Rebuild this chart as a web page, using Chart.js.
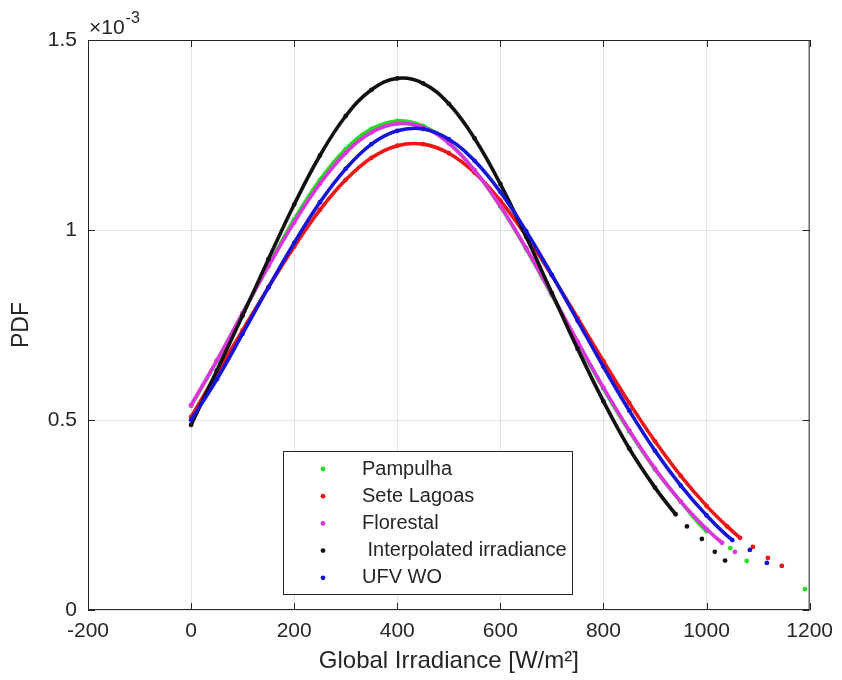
<!DOCTYPE html>
<html>
<head>
<meta charset="utf-8">
<script src="https://cdn.jsdelivr.net/npm/chart.js@4.4.0/dist/chart.umd.min.js"></script>
<style>
  body { margin: 0; background: #fff; }
  #wrap { width: 842px; height: 680px; }
</style>
</head>
<body>
<div id="wrap"><canvas id="pdfChart" width="842" height="680"></canvas></div>
<script>
    // values, PDF in units of 1e-3
    const xTicks = [-200, 0, 200, 400, 600, 800, 1000, 1200];
    const yTicks = [0, 0.5, 1, 1.5];

    const pampulhaX = [0, 50, 100, 150, 200, 250, 300, 350, 400, 450, 500, 550, 600, 650, 700, 750, 800, 850, 900, 950, 1000, 1046, 1078, 1191];
    const pampulhaPdf = [0.537, 0.655, 0.781, 0.906, 1.028, 1.132, 1.213, 1.266, 1.287, 1.274, 1.230, 1.157, 1.062, 0.950, 0.828, 0.703, 0.582, 0.470, 0.370, 0.285, 0.207, 0.163, 0.129, 0.055];

    const seteLagoasX = [0, 50, 100, 150, 200, 250, 300, 350, 400, 450, 500, 550, 600, 650, 700, 750, 800, 850, 900, 950, 1000, 1040, 1065, 1090, 1119, 1146];
    const seteLagoasPdf = [0.508, 0.623, 0.736, 0.849, 0.956, 1.053, 1.132, 1.190, 1.222, 1.226, 1.202, 1.151, 1.077, 0.985, 0.880, 0.768, 0.655, 0.545, 0.444, 0.353, 0.274, 0.220, 0.190, 0.166, 0.137, 0.116];

    const florestalX = [0, 50, 100, 150, 200, 250, 300, 350, 400, 450, 500, 550, 600, 650, 700, 750, 800, 850, 900, 950, 1000, 1030, 1055];
    const florestalPdf = [0.539, 0.657, 0.781, 0.904, 1.020, 1.122, 1.203, 1.257, 1.280, 1.270, 1.228, 1.157, 1.063, 0.952, 0.830, 0.706, 0.585, 0.473, 0.372, 0.285, 0.213, 0.177, 0.153];

    const interpX = [0, 50, 100, 150, 200, 250, 300, 350, 400, 450, 500, 550, 600, 650, 700, 750, 800, 850, 900, 940, 962, 991, 1016, 1036];
    const interpPdf = [0.487, 0.630, 0.775, 0.923, 1.067, 1.196, 1.300, 1.369, 1.399, 1.386, 1.332, 1.241, 1.121, 0.982, 0.834, 0.687, 0.549, 0.425, 0.322, 0.252, 0.220, 0.187, 0.153, 0.130];

    const ufvX = [0, 50, 100, 150, 200, 250, 300, 350, 400, 450, 500, 550, 600, 650, 700, 750, 800, 850, 900, 950, 1000, 1050, 1084, 1117];
    const ufvPdf = [0.500, 0.607, 0.727, 0.849, 0.966, 1.073, 1.161, 1.226, 1.261, 1.266, 1.239, 1.182, 1.100, 0.997, 0.882, 0.761, 0.640, 0.525, 0.419, 0.327, 0.249, 0.184, 0.158, 0.124];

    const seriesNames = ["Pampulha", "Sete Lagoas", "Florestal", " Interpolated irradiance", "UFV WO"];

    const textColor = "#262626";
    const fontFam = "'Liberation Sans', Arial, sans-serif";

    function makeSet(label, xs, ys, color, lineEnd, order) {
        return {
            label: label,
            data: xs.map((v, i) => ({ x: v, y: ys[i] })),
            showLine: true,
            borderColor: color,
            backgroundColor: color,
            borderWidth: 3.6,
            pointRadius: 2.4,
            pointBorderWidth: 0,
            tension: 0.4,
            order: order,
            segment: {
                // the sparse tail is only dots
                borderColor: c => c.p1.parsed.x > lineEnd ? "rgba(0,0,0,0)" : color
            }
        };
    }

    const boxPlugin = {
        id: "box",
        afterDatasetsDraw(chart) {
            const { ctx, chartArea: a, scales } = chart;
            ctx.save();
            ctx.strokeStyle = textColor;
            ctx.lineWidth = 1;
            ctx.strokeRect(a.left + 0.5, a.top + 0.5, a.right - a.left - 1, a.bottom - a.top - 1);
            ctx.beginPath();
            xTicks.forEach(v => {
                const px = Math.round(scales.x.getPixelForValue(v)) + 0.5;
                ctx.moveTo(px, a.bottom); ctx.lineTo(px, a.bottom - 7);
                ctx.moveTo(px, a.top); ctx.lineTo(px, a.top + 7);
            });
            yTicks.forEach(v => {
                const py = Math.round(scales.y.getPixelForValue(v)) + 0.5;
                ctx.moveTo(a.left, py); ctx.lineTo(a.left + 7, py);
                ctx.moveTo(a.right, py); ctx.lineTo(a.right - 7, py);
            });
            ctx.stroke();

            // exponent label
            ctx.fillStyle = textColor;
            ctx.textBaseline = "alphabetic";
            ctx.font = "21px " + fontFam;
            ctx.fillText("\u00d710", a.left + 1, a.top - 6);
            const w = ctx.measureText("\u00d710").width;
            ctx.font = "16px " + fontFam;
            ctx.fillText("-3", a.left + 1 + w + 1, a.top - 17);
            ctx.restore();
        },
        afterDraw(chart) {
            const { ctx } = chart;
            const sets = chart.data.datasets;
            ctx.save();
            ctx.fillStyle = "#fff";
            ctx.fillRect(283.5, 451.5, 289, 143);
            ctx.strokeStyle = textColor;
            ctx.lineWidth = 1;
            ctx.strokeRect(283.5, 451.5, 289, 143);
            ctx.font = "20px " + fontFam;
            ctx.textBaseline = "middle";
            sets.forEach((s, i) => {
                const yy = 469 + i * 27.2;
                ctx.fillStyle = s.borderColor;
                ctx.beginPath();
                ctx.arc(323, yy, 2.4, 0, Math.PI * 2);
                ctx.fill();
                ctx.fillStyle = textColor;
                ctx.fillText(s.label, 362, yy);
            });
            ctx.restore();
        }
    };

    new Chart(document.getElementById("pdfChart"), {
        type: "scatter",
        data: {
            datasets: [
                makeSet(seriesNames[0], pampulhaX, pampulhaPdf, "#22dd22", 1000, 5),
                makeSet(seriesNames[1], seteLagoasX, seteLagoasPdf, "#ee1515", 1065, 4),
                makeSet(seriesNames[2], florestalX, florestalPdf, "#dd33dd", 1030, 3),
                makeSet(seriesNames[3], interpX, interpPdf, "#111111", 940, 2),
                makeSet(seriesNames[4], ufvX, ufvPdf, "#1515d8", 1050, 1)
            ]
        },
        options: {
            responsive: false,
            animation: false,
            layout: { padding: { top: 40, right: 30, left: 0, bottom: 0 } },
            plugins: { legend: { display: false }, tooltip: { enabled: false } },
            scales: {
                x: {
                    type: "linear",
                    min: -200,
                    max: 1200,
                    afterBuildTicks: s => { s.ticks = xTicks.map(v => ({ value: v })); },
                    afterFit: s => { s.height = 70; },
                    grid: { color: "#e2e2e2", drawTicks: false },
                    border: { display: false },
                    ticks: {
                        padding: 9,
                        color: textColor,
                        font: { family: fontFam, size: 21 },
                        callback: v => String(v)
                    },
                    title: {
                        display: true,
                        text: "Global Irradiance [W/m²]",
                        color: textColor,
                        font: { family: fontFam, size: 24 },
                        padding: { top: 0, bottom: 4 }
                    }
                },
                y: {
                    type: "linear",
                    min: 0,
                    max: 1.5,
                    afterBuildTicks: s => { s.ticks = yTicks.map(v => ({ value: v })); },
                    afterFit: s => { s.width = 88; },
                    grid: { color: "#e2e2e2", drawTicks: false },
                    border: { display: false },
                    ticks: {
                        padding: 11,
                        color: textColor,
                        font: { family: fontFam, size: 21 },
                        callback: v => String(v)
                    },
                    title: {
                        display: true,
                        text: "PDF",
                        color: textColor,
                        font: { family: fontFam, size: 23 },
                        padding: { top: 8, bottom: 0 }
                    }
                }
            }
        },
        plugins: [boxPlugin]
    });
</script>
</body>
</html>
